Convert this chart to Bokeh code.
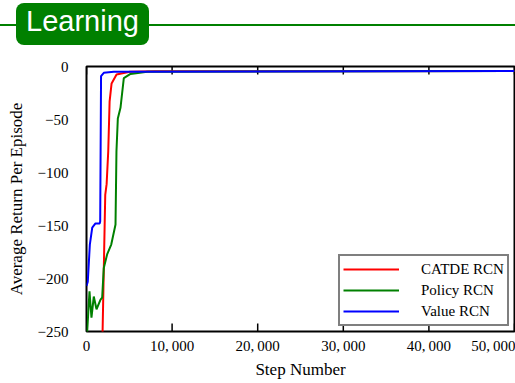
from bokeh.plotting import figure
from bokeh.layouts import column
from bokeh.models import Range1d, FixedTicker, Legend, LegendItem, Div
from bokeh.embed import file_html
from bokeh.resources import INLINE

# ---- data: average return per episode vs. training step ----
catde_steps = [1870, 1880, 2190, 2350, 2540, 2700, 2930, 3510, 5060, 8000, 50000]
catde_return = [-252, -250, -121, -111, -80, -33, -16, -7.6, -5, -4.5, -4.2]

policy_steps = [0, 80, 350, 580, 850, 1170, 1640, 1830, 2020, 2420, 2890, 3390,
                3500, 3660, 3970, 4360, 5140, 7090, 50000]
policy_return = [-255, -250, -212, -237, -217, -229, -220, -218, -190, -177, -168, -149,
                 -80, -49, -39, -11, -7, -5, -4.2]

value_steps = [0, 150, 390, 670, 1050, 1550, 1600, 1700, 2020, 3190, 50000]
value_return = [-207, -203, -168, -152, -148, -148, -146, -9, -6, -5, -4.2]

x_ticks = [0, 10000, 20000, 30000, 40000, 50000]
x_tick_labels = ["0", "10,\u2009000", "20,\u2009000", "30,\u2009000", "40,\u2009000", "50,\u2009000"]
y_ticks = [-250, -200, -150, -100, -50, 0]
y_tick_labels = ["\u2212250", "\u2212200", "\u2212150", "\u2212100", "\u221250", "0"]

series_names = ["CATDE RCN", "Policy RCN", "Value RCN"]
series_colors = ["#ff0000", "#008000", "#0000ff"]

GREEN = "#008000"
SERIF = "Liberation Serif"

W = 515
HEAD_H = 50
H = 333
LEFT, RIGHT, TOP, BOTTOM = 86, 1, 16, 52
X0, X1 = 0, 50000
Y0, Y1 = -250, 0
frame_w = W - LEFT - RIGHT
frame_h = H - TOP - BOTTOM

# ---- section header: green rule with a rounded title tab ----
header = Div(
    text=(
        '<div style="position:relative;width:515px;height:50px;">'
        '<div style="position:absolute;left:0;top:24px;width:515px;height:2px;'
        'background:#008000;"></div>'
        '<div style="position:absolute;left:16px;top:3px;width:133px;height:42px;'
        'border-radius:8px;background:#008000;color:#ffffff;'
        "font-family:'Liberation Sans',Arial,sans-serif;font-size:29px;"
        'line-height:36px;text-align:center;">Learning</div>'
        '</div>'
    ),
    width=W, height=HEAD_H, margin=0,
)

# ---- main chart ----
p = figure(width=W, height=H, x_range=Range1d(X0, X1), y_range=Range1d(Y0, Y1),
           output_backend="svg", toolbar_location=None,
           min_border_left=LEFT, min_border_right=RIGHT,
           min_border_top=TOP, min_border_bottom=BOTTOM)
p.xgrid.visible = False
p.ygrid.visible = False
p.outline_line_color = "black"
p.outline_line_width = 2

# the last tick label is pulled left so that it stays on the canvas
last_label_pos = X1 - 20 * (X1 - X0) / frame_w
label_positions = x_ticks[:-1] + [last_label_pos]

xa = p.xaxis[0]
xa.ticker = FixedTicker(ticks=label_positions)
xa.major_label_overrides = dict(zip(label_positions, x_tick_labels))
xa.major_tick_in = 0
xa.major_tick_out = 0
xa.major_tick_line_color = None
xa.minor_tick_line_color = None
xa.axis_line_color = None
xa.major_label_standoff = 6
xa.major_label_text_font = SERIF
xa.major_label_text_font_size = "15px"
xa.major_label_text_color = "black"
xa.axis_label = "Step Number"
xa.axis_label_text_font = SERIF
xa.axis_label_text_font_size = "17px"
xa.axis_label_text_font_style = "normal"
xa.axis_label_text_color = "black"
xa.axis_label_standoff = 3

# inward tick marks on the bottom and top edges of the frame
tick_len = 8 * (Y1 - Y0) / frame_h
n = len(x_ticks)
p.segment(x0=x_ticks, y0=[Y0] * n, x1=x_ticks, y1=[Y0 + tick_len] * n,
          line_color="black", line_width=1.5)
p.segment(x0=x_ticks, y0=[Y1] * n, x1=x_ticks, y1=[Y1 - tick_len] * n,
          line_color="black", line_width=1.5)

ya = p.yaxis[0]
ya.ticker = FixedTicker(ticks=y_ticks)
ya.major_label_overrides = dict(zip(y_ticks, y_tick_labels))
ya.major_tick_in = 0
ya.major_tick_out = 0
ya.minor_tick_line_color = None
ya.axis_line_color = None
ya.major_label_standoff = 18
ya.major_label_text_font = SERIF
ya.major_label_text_font_size = "15px"
ya.major_label_text_color = "black"
ya.axis_label = "Average Return Per Episode"
ya.axis_label_text_font = SERIF
ya.axis_label_text_font_size = "17px"
ya.axis_label_text_font_style = "normal"
ya.axis_label_text_color = "black"
ya.axis_label_standoff = 9

# ---- curves ----
renderers = []
for xs, ys, color in [(catde_steps, catde_return, series_colors[0]),
                      (policy_steps, policy_return, series_colors[1]),
                      (value_steps, value_return, series_colors[2])]:
    renderers.append(p.line(xs, ys, line_color=color, line_width=2))

legend = Legend(items=[LegendItem(label=nm, renderers=[r]) for nm, r in zip(series_names, renderers)],
                location=(252, 5))
legend.border_line_color = "black"
legend.border_line_width = 2
legend.background_fill_color = "white"
legend.background_fill_alpha = 1
legend.padding = 3
legend.spacing = 1
legend.margin = 0
legend.label_height = 20
legend.glyph_height = 20
legend.glyph_width = 56
legend.label_standoff = 22
legend.label_width = 83
legend.label_text_font = SERIF
legend.label_text_font_size = "15px"
legend.label_text_color = "black"
p.add_layout(legend, "center")

layout = column(header, p, spacing=0)
open("out.html", "w").write(file_html(layout, INLINE))
